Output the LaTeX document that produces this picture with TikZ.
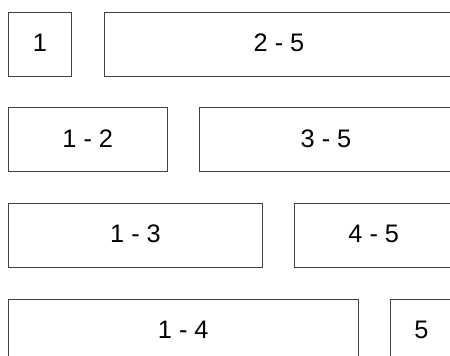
\documentclass[tikz,border=0pt]{standalone}
\usepackage{fontspec}
\setmainfont{Liberation Sans}
\begin{document}
\begin{tikzpicture}[x=0.75pt,y=-0.75pt,
  seg/.style={draw=black!75, line width=0.75pt, anchor=north west, inner sep=0pt,
    minimum height=64*0.75pt, text depth=2.2pt, font=\fontsize{19}{22}\selectfont}]
\path[use as bounding box] (0,0) rectangle (450,356);
\begin{scope}
\clip (0,0) rectangle (450,356);
\node[seg, minimum width=63*0.75pt] (a1) at (8,12) {1};
\node[seg, minimum width=350*0.75pt] (a2) at (103.5,12) {2 - 5};
\node[seg, minimum width=158.5*0.75pt] (b1) at (8,107.5) {1 - 2};
\node[seg, minimum width=254*0.75pt] (b2) at (198.5,107.5) {3 - 5};
\node[seg, minimum width=254*0.75pt] (c1) at (8,203) {1 - 3};
\node[seg, minimum width=158.5*0.75pt] (c2) at (294,203) {4 - 5};
\node[seg, minimum width=349.5*0.75pt] (d1) at (8,298.5) {1 - 4};
\node[seg, minimum width=63*0.75pt] (d2) at (389.5,298.5) {5};
\end{scope}
\end{tikzpicture}
\end{document}
